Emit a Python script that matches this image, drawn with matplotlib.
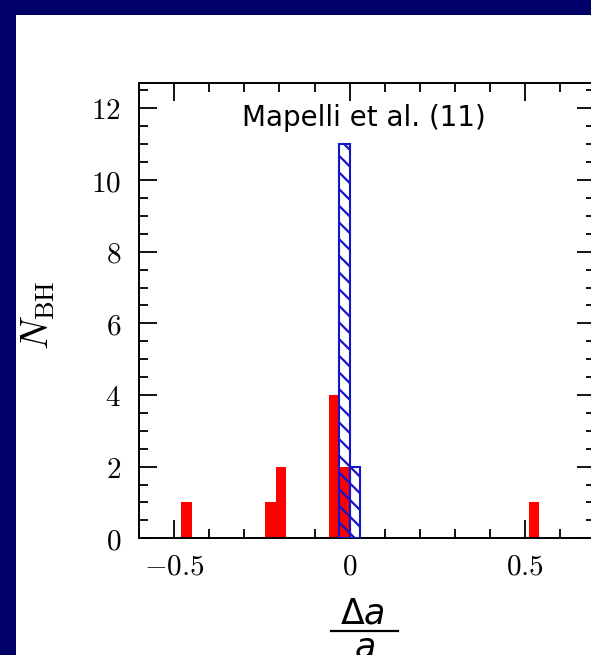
import matplotlib
matplotlib.use("Agg")
import matplotlib.pyplot as plt
from matplotlib.patches import Rectangle
from matplotlib.lines import Line2D
from matplotlib.ticker import MultipleLocator, FixedLocator, FixedFormatter

# histogram data: left bin edges and counts (bin width 0.03)
bin_width = 0.03
red_left = [-0.48, -0.24, -0.21, -0.06, -0.03, 0.51]
red_counts = [1, 1, 2, 4, 2, 1]
blue_left = [-0.03, 0.0]
blue_counts = [11, 2]

xticks = [-0.5, 0, 0.5]
xticklabels = ['$-0.5$', '$0$', '$0.5$']
yticks = [0, 2, 4, 6, 8, 10, 12]
yticklabels = ['$%d$' % v for v in yticks]

plt.rcParams['mathtext.fontset'] = 'cm'
plt.rcParams['hatch.linewidth'] = 1.6

W, H = 591, 655
fig = plt.figure(figsize=(W / 100, H / 100), dpi=100, facecolor='#000068')

# white slide area
fig.patches.append(Rectangle((16 / W, 0), 1, 1 - 15 / H, transform=fig.transFigure,
                             facecolor='white', edgecolor='none', zorder=-10))

ax = fig.add_axes([139 / W, 1 - 538.3 / H, 456.3 / W, 455 / H])
ax.set_facecolor('none')
ax.set_zorder(1)

ax.bar(red_left, red_counts, width=bin_width, align='edge', color='#ff0000',
       edgecolor='none', zorder=2)
ax.bar(blue_left, blue_counts, width=bin_width, align='edge', fill=False,
       hatch='\\\\', edgecolor='#1414c8', linewidth=1.5, zorder=3)

ax.set_xlim(-0.6, 0.7)
ax.set_ylim(0, 12.7)

ax.xaxis.set_major_locator(FixedLocator(xticks))
ax.xaxis.set_major_formatter(FixedFormatter(xticklabels))
ax.xaxis.set_minor_locator(MultipleLocator(0.1))
ax.yaxis.set_major_locator(FixedLocator(yticks))
ax.yaxis.set_major_formatter(FixedFormatter(yticklabels))
ax.yaxis.set_minor_locator(MultipleLocator(0.5))

ax.tick_params(which='both', direction='in', top=True, right=True, width=1.3,
               labelsize=21, color='black')
ax.tick_params(which='major', length=13)
ax.tick_params(which='minor', length=6.5)
ax.tick_params(axis='x', pad=10)
ax.tick_params(axis='y', pad=13)
for s in ax.spines.values():
    s.set_linewidth(1.4)

fig.text(364 / W, 1 - 118 / H, 'Mapelli et al. (11)', fontsize=20,
         ha='center', va='center', family='DejaVu Sans')
fig.text(38 / W, 1 - 315 / H, r'$N_{\rm BH}$', fontsize=27, rotation=90,
         ha='center', va='center')

# x label: fraction Delta a / a drawn as numerator, bar, denominator
# (the slide crops the denominator at the bottom edge, as in the original)
fig.text(362 / W, 1 - 623 / H, r'$\Delta a$', fontsize=25, ha='center',
         va='baseline', math_fontfamily='dejavusans')
fig.add_artist(Line2D([331 / W, 398 / W], [1 - 631 / H, 1 - 631 / H],
                      transform=fig.transFigure, color='black', linewidth=1.6))
fig.text(364 / W, 1 - 657 / H, r'$a$', fontsize=25, ha='center',
         va='baseline', math_fontfamily='dejavusans')

fig.savefig('out.png', dpi=100, facecolor=fig.get_facecolor())
